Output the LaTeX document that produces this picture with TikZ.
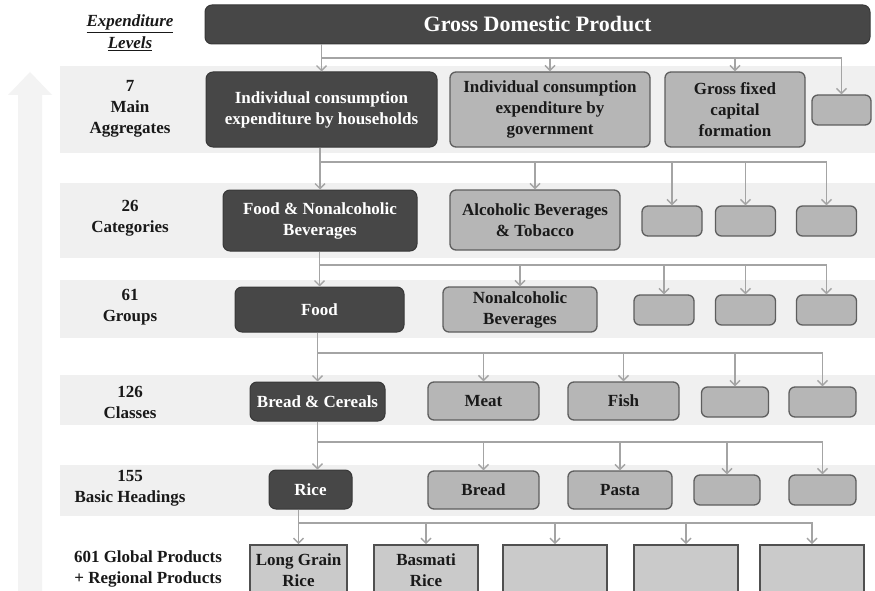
\documentclass[tikz,border=0pt]{standalone}
\usepackage{fontspec}
\setmainfont{Liberation Serif}
\usetikzlibrary{arrows.meta}

\definecolor{dkfill}{HTML}{474747}
\definecolor{dkline}{HTML}{383838}
\definecolor{ltfill}{HTML}{B6B6B6}
\definecolor{ltline}{HTML}{5E5E5E}
\definecolor{prfill}{HTML}{CACACA}
\definecolor{prline}{HTML}{505050}
\definecolor{bandfill}{HTML}{F0F0F0}
\definecolor{upfill}{HTML}{F3F3F3}
\definecolor{connline}{HTML}{A4A4A4}

\tikzset{
  boxtext/.style = {font=\fontsize{17}{21}\selectfont\bfseries, align=center, inner sep=0pt},
  dkbox/.style = {boxtext, rounded corners=7pt, fill=dkfill, draw=dkline, line width=1pt, text=white},
  ltbox/.style = {boxtext, rounded corners=6pt, fill=ltfill, draw=ltline, line width=1.3pt, text=black!90},
  smbox/.style = {ltbox, minimum height=30},
  prbox/.style = {boxtext, fill=prfill, draw=prline, line width=1.6pt, text=black!90},
  lvl/.style = {boxtext, text=black!90},
  conn/.style = {draw=connline, line width=1.4pt, -{Straight Barb[length=5pt, width=10pt]}},
}

\begin{document}
\begin{tikzpicture}[x=1pt, y=-1pt]
\useasboundingbox (0,0) rectangle (875,591);
\fill[white] (0,0) rectangle (875,591);

% level bands
\fill[bandfill] (60,66) rectangle (875,153);
\fill[bandfill] (60,183) rectangle (875,258);
\fill[bandfill] (60,280) rectangle (875,338);
\fill[bandfill] (60,375) rectangle (875,425);
\fill[bandfill] (60,465) rectangle (875,516);

% upward arrow
\fill[upfill] (18,591) -- (18,95) -- (8,95) -- (30,72) -- (52,95) -- (42,95) -- (42,591) -- cycle;

% level labels
\node[lvl, font=\fontsize{17}{22}\selectfont\bfseries\itshape] (lvlhead) at (130,33) {\underline{Expenditure}\\\underline{Levels}};
\node[lvl] (lvl1) at (130,109) {7\\Main\\Aggregates};
\node[lvl] (lvl2) at (130,218) {26\\Categories};
\node[lvl] (lvl3) at (130,307) {61\\Groups};
\node[lvl] (lvl4) at (130,402) {126\\Classes};
\node[lvl] (lvl5) at (130,488) {155\\Basic Headings};
\node[lvl] (lvl6) at (148,569) {601 Global Products\\+ Regional Products};

% top
\node[dkbox, minimum width=665, minimum height=39, font=\fontsize{22}{26}\selectfont\bfseries] (gdp) at (537.5,24.5) {Gross Domestic Product};

% main aggregates
\node[dkbox, minimum width=231, minimum height=75] (hh) at (321.5,109.5) {Individual consumption\\expenditure by households};
\node[ltbox, minimum width=200, minimum height=75] (gov) at (550,109.5) {Individual consumption\\expenditure by\\government};
\node[ltbox, minimum width=140, minimum height=75] (gfcf) at (735,109.5) {Gross fixed\\capital\\formation};
\node[smbox, minimum width=59] (agg4) at (841.5,110) {};

% categories
\node[dkbox, minimum width=194, minimum height=61] (fnb) at (320,220.5) {Food \& Nonalcoholic\\Beverages};
\node[ltbox, minimum width=170, minimum height=60] (abt) at (535,220) {Alcoholic Beverages\\\& Tobacco};
\node[smbox, minimum width=60] (cat3) at (672,221) {};
\node[smbox, minimum width=60] (cat4) at (745.5,221) {};
\node[smbox, minimum width=60] (cat5) at (826.5,221) {};

% groups
\node[dkbox, minimum width=169, minimum height=45] (food) at (319.5,309.5) {Food};
\node[ltbox, minimum width=154, minimum height=45] (nab) at (520,309.5) {Nonalcoholic\\Beverages};
\node[smbox, minimum width=60] (grp3) at (664,310) {};
\node[smbox, minimum width=60] (grp4) at (745.5,310) {};
\node[smbox, minimum width=60] (grp5) at (826.5,310) {};

% classes
\node[dkbox, minimum width=135, minimum height=39] (brc) at (317.5,401.5) {Bread \& Cereals};
\node[ltbox, minimum width=111, minimum height=38] (meat) at (483.5,401) {Meat};
\node[ltbox, minimum width=111, minimum height=38] (fish) at (623.5,401) {Fish};
\node[smbox, minimum width=67] (cls4) at (735,402) {};
\node[smbox, minimum width=67] (cls5) at (822.5,402) {};

% basic headings
\node[dkbox, minimum width=83, minimum height=39] (rice) at (310.5,489.5) {Rice};
\node[ltbox, minimum width=111, minimum height=38] (bread) at (483.5,490) {Bread};
\node[ltbox, minimum width=104, minimum height=38] (pasta) at (620,490) {Pasta};
\node[smbox, minimum width=66] (bh4) at (727,490) {};
\node[smbox, minimum width=67] (bh5) at (822.5,490) {};

% products
\node[prbox, minimum width=97, minimum height=50] (lgr) at (298.5,570) {Long Grain\\Rice};
\node[prbox, minimum width=104, minimum height=50] (bsm) at (426,570) {Basmati\\Rice};
\node[prbox, minimum width=104, minimum height=50] (prd3) at (555,570) {};
\node[prbox, minimum width=104, minimum height=50] (prd4) at (686,570) {};
\node[prbox, minimum width=104, minimum height=50] (prd5) at (812,570) {};

% connectors
\draw[conn] (hh.north |- gdp.south) -- (hh.north);
\foreach \c in {gov, gfcf, agg4}
  \draw[conn] (hh.north |- 0,58) -| (\c.north);

\draw[conn] (fnb.north |- hh.south) -- (fnb.north);
\foreach \c in {abt, cat3, cat4, cat5}
  \draw[conn] (fnb.north |- 0,162) -| (\c.north);

\draw[conn] (food.north |- fnb.south) -- (food.north);
\foreach \c in {nab, grp3, grp4, grp5}
  \draw[conn] (food.north |- 0,265) -| (\c.north);

\draw[conn] (brc.north |- food.south) -- (brc.north);
\foreach \c in {meat, fish, cls4, cls5}
  \draw[conn] (brc.north |- 0,353) -| (\c.north);

\draw[conn] (brc.north |- brc.south) -- (brc.north |- rice.north);
\foreach \c in {bread, pasta, bh4, bh5}
  \draw[conn] (brc.north |- 0,442) -| (\c.north);

\draw[conn] (lgr.north |- rice.south) -- (lgr.north);
\foreach \c in {bsm, prd3, prd4, prd5}
  \draw[conn] (lgr.north |- 0,523) -| (\c.north);
\end{tikzpicture}
\end{document}
